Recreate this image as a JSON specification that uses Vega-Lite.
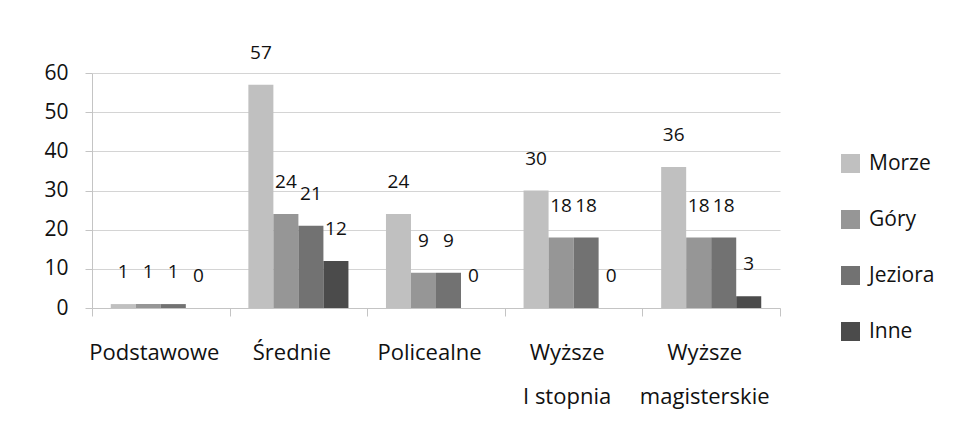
{
  "$schema": "https://vega.github.io/schema/vega-lite/v6.json",
  "autosize": "none",
  "width": 688,
  "height": 235,
  "padding": {"left": 92, "top": 73, "right": 174, "bottom": 129},
  "background": "white",
  "config": {
    "view": {"stroke": null},
    "font": "Open Sans",
    "text": {"font": "Open Sans"}
  },
  "data": {
    "values": [
      {"kategoria": "Podstawowe", "typ": "Morze", "wartosc": 1},
      {"kategoria": "Podstawowe", "typ": "Góry", "wartosc": 1},
      {"kategoria": "Podstawowe", "typ": "Jeziora", "wartosc": 1},
      {"kategoria": "Podstawowe", "typ": "Inne", "wartosc": 0},
      {"kategoria": "Średnie", "typ": "Morze", "wartosc": 57},
      {"kategoria": "Średnie", "typ": "Góry", "wartosc": 24},
      {"kategoria": "Średnie", "typ": "Jeziora", "wartosc": 21},
      {"kategoria": "Średnie", "typ": "Inne", "wartosc": 12},
      {"kategoria": "Policealne", "typ": "Morze", "wartosc": 24},
      {"kategoria": "Policealne", "typ": "Góry", "wartosc": 9},
      {"kategoria": "Policealne", "typ": "Jeziora", "wartosc": 9},
      {"kategoria": "Policealne", "typ": "Inne", "wartosc": 0},
      {"kategoria": "Wyższe|I stopnia", "typ": "Morze", "wartosc": 30},
      {"kategoria": "Wyższe|I stopnia", "typ": "Góry", "wartosc": 18},
      {"kategoria": "Wyższe|I stopnia", "typ": "Jeziora", "wartosc": 18},
      {"kategoria": "Wyższe|I stopnia", "typ": "Inne", "wartosc": 0},
      {"kategoria": "Wyższe|magisterskie", "typ": "Morze", "wartosc": 36},
      {"kategoria": "Wyższe|magisterskie", "typ": "Góry", "wartosc": 18},
      {"kategoria": "Wyższe|magisterskie", "typ": "Jeziora", "wartosc": 18},
      {"kategoria": "Wyższe|magisterskie", "typ": "Inne", "wartosc": 3}
    ]
  },
  "encoding": {
    "x": {
      "field": "kategoria",
      "type": "nominal",
      "sort": null,
      "scale": {"paddingInner": 0, "paddingOuter": 0},
      "axis": {
        "title": null,
        "labelAngle": 0,
        "labelExpr": "split(datum.label, '|')",
        "labelFontSize": 22,
        "labelColor": "#111111",
        "labelLineHeight": 44,
        "labelPadding": 26,
        "labelOffset": -7,
        "tickBand": "extent",
        "tickSize": 8,
        "tickColor": "#c4c4c4",
        "domainColor": "#c4c4c4",
        "labelFont": "Open Sans"
      }
    },
    "xOffset": {
      "field": "typ",
      "type": "nominal",
      "sort": ["Morze", "Góry", "Jeziora", "Inne"],
      "scale": {"paddingInner": 0, "paddingOuter": 0.75}
    },
    "y": {
      "field": "wartosc",
      "type": "quantitative",
      "scale": {"domain": [0, 60]},
      "axis": {
        "title": null,
        "values": [0, 10, 20, 30, 40, 50, 60],
        "labelFontSize": 21,
        "labelColor": "#111111",
        "labelPadding": 17,
        "tickSize": 7,
        "tickColor": "#c4c4c4",
        "domainColor": "#c4c4c4",
        "gridColor": "#d4d4d4",
        "labelFont": "Open Sans"
      }
    }
  },
  "layer": [
    {
      "mark": {"type": "bar"},
      "encoding": {
        "color": {
          "field": "typ",
          "type": "nominal",
          "sort": ["Morze", "Góry", "Jeziora", "Inne"],
          "scale": {
            "domain": ["Morze", "Góry", "Jeziora", "Inne"],
            "range": ["#c0c0c0", "#969696", "#727272", "#4b4b4b"]
          },
          "legend": {
            "title": null,
            "orient": "none",
            "legendX": 748,
            "legendY": 80,
            "symbolType": "square",
            "symbolSize": 361,
            "symbolStrokeWidth": 0,
            "labelFontSize": 21,
            "labelFont": "Open Sans",
            "labelColor": "#111111",
            "labelOffset": 8,
            "rowPadding": 34
          }
        }
      }
    },
    {
      "mark": {"type": "text", "fontSize": 19, "color": "#111111", "baseline": "middle", "dy": -32},
      "encoding": {
        "text": {"field": "wartosc", "type": "quantitative"}
      }
    }
  ]
}
